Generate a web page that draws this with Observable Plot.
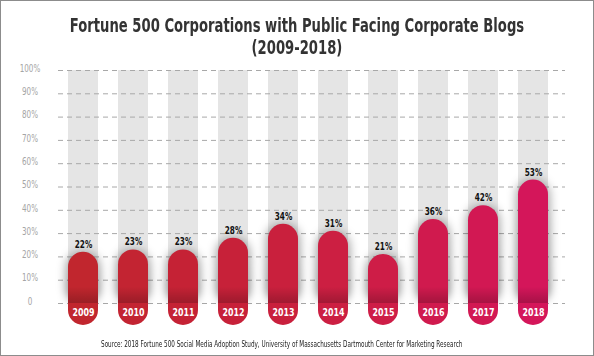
<!DOCTYPE html>
<html>
<head>
<meta charset="utf-8">
<script src="https://cdn.jsdelivr.net/npm/d3@7"></script>
<script src="https://cdn.jsdelivr.net/npm/@observablehq/plot@0.6"></script>
<style>
  body { margin: 0; background: #fff; }
  #wrap { position: relative; width: 594px; height: 356px; background: #fff; overflow: hidden; }
  #frame { position: absolute; left: 0; top: 0; width: 594px; height: 356px; box-sizing: border-box; border: 1px solid #8c8c8c; pointer-events: none; }
  .cond { font-family: "Liberation Sans Narrow", "DejaVu Sans Condensed", "Roboto Condensed", "Arial Narrow", sans-serif; }
  #title { position: absolute; left: 0; top: 14px; width: 594px; text-align: center; font-weight: bold; font-size: 19px; line-height: 22px; color: #333; }
  #title span { display: inline-block; transform: scaleX(0.77); transform-origin: 50% 50%; white-space: nowrap; }
  #chart { position: absolute; left: 0; top: 62px; }
  #source { position: absolute; left: 0; top: 337px; width: 564px; text-align: center; font-size: 9.5px; line-height: 14px; color: #222; }
  #source span { display: inline-block; transform: scaleX(0.665); transform-origin: 50% 50%; white-space: nowrap; }
</style>
</head>
<body>
<div id="wrap">
  <div id="title" class="cond"><span>Fortune 500 Corporations with Public Facing Corporate Blogs</span><br><span>(2009-2018)</span></div>
  <div id="chart"></div>
  <div id="source" class="cond"><span>Source: 2018 Fortune 500 Social Media Adoption Study, University of Massachusetts Dartmouth Center for Marketing Research</span></div>
  <div id="frame"></div>
</div>
<script>
const years = ["2009","2010","2011","2012","2013","2014","2015","2016","2017","2018"];
const values = [22, 23, 23, 28, 34, 31, 21, 36, 42, 53];
const barColors = ["#c1262e","#c32432","#c52235","#c72139","#c9203d","#cc1f42","#ce1d47","#d01a4e","#d21853","#d4165a"];
const yTicks = [0,10,20,30,40,50,60,70,80,90,100];
const yTickLabels = ["0","10%","20%","30%","40%","50%","60%","70%","80%","90%","100%"];

const data = years.map((year, i) => ({year, value: values[i], color: barColors[i]}));
const ticks = yTicks.map((v, i) => ({v, label: yTickLabels[i]}));

const FONT = '"Liberation Sans Narrow", "DejaVu Sans Condensed", "Roboto Condensed", "Arial Narrow", sans-serif';

function defs() {
  const ns = "http://www.w3.org/2000/svg";
  const d = document.createElementNS(ns, "defs");
  d.innerHTML = `
    <filter id="shadow" x="-60%" y="-30%" width="220%" height="160%">
      <feGaussianBlur stdDeviation="5"/>
    </filter>
    <linearGradient id="shade" x1="0" y1="0" x2="0" y2="1">
      <stop offset="0" stop-color="#000" stop-opacity="0.3"/>
      <stop offset="1" stop-color="#000" stop-opacity="0.5"/>
    </linearGradient>
    <linearGradient id="band" x1="0" y1="0" x2="0" y2="1">
      <stop offset="0" stop-color="#000" stop-opacity="0"/>
      <stop offset="0.7" stop-color="#000" stop-opacity="0.15"/>
      <stop offset="1" stop-color="#000" stop-opacity="0.2"/>
    </linearGradient>`;
  return d;
}

const chart = Plot.plot({
  width: 594,
  height: 272,
  marginLeft: 46,
  marginRight: 24,
  marginTop: 8,
  marginBottom: 31,
  style: {fontFamily: FONT, fontSize: "10px", background: "transparent", overflow: "visible"},
  x: {type: "band", domain: years, padding: 0.405, axis: null},
  y: {domain: [0, 100], axis: null},
  color: {type: "identity"},
  marks: [
    defs,
    Plot.barY(data, {x: "year", y1: 0, y2: 100, fill: "#e5e5e5"}),
    Plot.ruleY(yTicks, {stroke: "#a8a8a8", strokeDasharray: "5,4", insetLeft: 12, insetRight: 5}),
    Plot.barY(data, {x: "year", y1: 0, y2: "value", fill: "url(#shade)", rx: 15, insetLeft: -2, insetRight: -2}),
    Plot.barY(data, {x: "year", y1: 0, y2: "value", fill: "color", rx: 15, insetBottom: -22}),
    Plot.barY(data, {x: "year", y1: 0, y2: 7, fill: "url(#band)"}),
    Plot.text(ticks, {y: "v", text: "label", frameAnchor: "left", dx: -16.5, dy: -2, textAnchor: "middle", fill: "#a5a5a5", fontSize: 10}),
    Plot.text(data, {x: "year", y: "value", text: d => d.value + "%", dy: -8, fill: "#111", fontWeight: "bold", fontSize: 11}),
    Plot.text(data, {x: "year", y: 0, text: "year", dy: 9, fill: "#fff", fontWeight: "bold", fontSize: 11})
  ]
});

const bars = chart.querySelectorAll('g[aria-label="bar"]');
if (bars.length >= 2) bars[1].setAttribute("filter", "url(#shadow)");
document.getElementById("chart").appendChild(chart);

// condense SVG labels to mimic the narrow face of the original
const textGroups = chart.querySelectorAll('g[aria-label="text"]');
const squeeze = [0.8, 0.74, 0.8];
textGroups.forEach((g, gi) => {
  g.querySelectorAll("text").forEach(t => {
    const len = t.getComputedTextLength();
    if (len > 0) {
      t.setAttribute("textLength", (len * squeeze[gi]).toFixed(1));
      t.setAttribute("lengthAdjust", "spacingAndGlyphs");
    }
  });
});
</script>
</body>
</html>
